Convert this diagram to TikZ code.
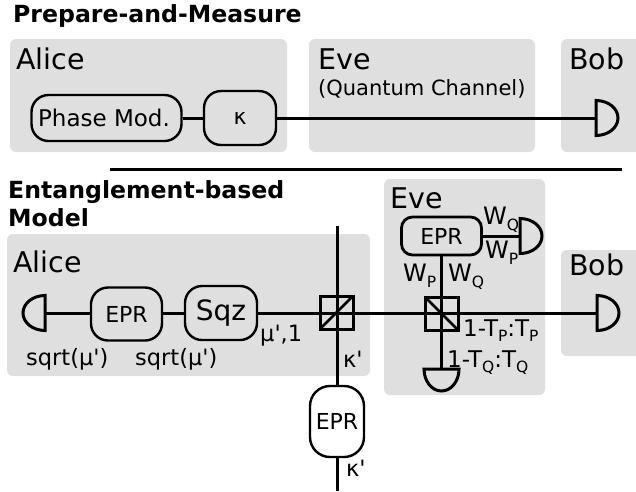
\documentclass[tikz,border=0pt]{standalone}
\usepackage{fontspec}
\setmainfont{DejaVu Sans}
\newfontfamily\plainface{DejaVu Sans}
\usetikzlibrary{calc}
\definecolor{panel}{HTML}{DFDFDF}
\newcommand{\fs}[1]{\fontsize{#1}{#1}\selectfont}
\newcommand{\sbs}[1]{\raisebox{-0.25em}{\fontsize{15.5}{15.5}\selectfont #1}}
\newcommand{\qq}{{\plainface\char"27\relax}}
\tikzset{
  panelbox/.style={fill=panel,draw=none,rounded corners=6pt},
  wire/.style={draw=black,line width=3pt},
  devbox/.style={draw=black,line width=2.4pt,fill=panel,rounded corners=17pt,inner sep=0pt,font=\fs{22}},
  whitebox/.style={devbox,fill=white,rounded corners=20pt},
  epreve/.style={devbox,line width=2.8pt,rounded corners=11pt},
  bsbox/.style={draw=black,line width=3pt,minimum width=33pt,minimum height=33pt,inner sep=0pt,fill=none,outer sep=0pt},
  det/.style={draw=black,line width=3pt},
  lab/.style={inner sep=0pt,anchor=base west,font=\fs{22.5}},
  big/.style={lab,font=\fs{28.5}},
  head/.style={lab,font=\fs{23.6}\bfseries},
}
\begin{document}
\begin{tikzpicture}[x=1pt,y=-1pt]
\useasboundingbox (0,0) rectangle (636,491);
% panels
\fill[panelbox] (10,39) rectangle (287,152);
\fill[panelbox] (309,39) rectangle (535,152);
\fill[panelbox] (561,39) rectangle (650,152);
\fill[panelbox] (7,234) rectangle (370,376);
\fill[panelbox] (384,179) rectangle (545,395);
\fill[panelbox] (561,250) rectangle (650,356);
\useasboundingbox (0,0) rectangle (636,491);
% headings and panel titles
\node[head] (h1) at (13,22) {Prepare-and-Measure};
\node[head] (h2) at (8,198) {Entanglement-based};
\node[head] (h3) at (8,226) {Model};
\node[big] (a1) at (16,69) {Alice};
\node[big] (e1) at (318,69) {Eve};
\node[lab,font=\fs{21}] (e1s) at (318,95) {(Quantum Channel)};
\node[big] (b1) at (569,69) {Bob};
\node[big] (a2) at (13,272.5) {Alice};
\node[big] (e2) at (390,208) {Eve};
\node[big] (b2) at (569,275) {Bob};
% rule
\coordinate (rs) at (110,169);
\coordinate (re) at (622,169);
\draw[draw=black,line width=3pt] (rs) -- (re);
% top row
\coordinate (dt) at (596,118);
\node[devbox,font=\fs{23},minimum width=150pt,minimum height=46pt] (pm) at (106.5,118) {\hspace*{-5pt}Phase Mod.};
\node[devbox,minimum width=72pt,minimum height=54pt] (kt) at (240,118) {κ};
\draw[wire] (pm) -- (kt);
\draw[wire] (kt) -- (dt);
% bottom row, Alice
\coordinate (dl) at (45,313);
\node[devbox,minimum width=71pt,minimum height=53pt] (ea) at (126.5,314) {EPR};
\node[devbox,minimum width=72pt,minimum height=54pt,font=\fs{28}] (sq) at (221,313) {Sqz};
\node[bsbox] (bsa) at (336.5,312.5) {};
\node[bsbox] (bse) at (441.5,313.5) {};
\coordinate (dr) at (597,313);
\coordinate (vt) at (337,226);
\coordinate (vb) at (337,491);
\draw[wire] (dl) -- (dl-|ea.west);
\draw[wire] (ea.east|-sq) -- (sq.west);
\draw[wire] (sq.east) -- (dr);
\draw[wire] (vt) -- (vb);
\node[whitebox,minimum width=54pt,minimum height=71pt] (ev) at (337,421.5) {EPR};
\draw[line width=2.5pt] (bsa.south west) -- (bsa.north east);
% Eve
\node[epreve,minimum width=80pt,minimum height=38pt] (ee) at (441.5,236) {EPR};
\coordinate (de) at (520,236);
\coordinate (db) at (441.5,369);
\draw[wire] (ee) -- (de);
\draw[wire] (ee) -- (db);
\draw[line width=2.5pt] (bse.north west) -- (bse.south east);
% detectors
\draw[det] (dt)++(0,-17.5) arc[start angle=-90,end angle=90,x radius=22pt,y radius=-17.5pt] -- cycle;
\draw[det] (dr)++(0,-17.5) arc[start angle=-90,end angle=90,x radius=22pt,y radius=-17.5pt] -- cycle;
\draw[det] (de)++(0,-17.5) arc[start angle=-90,end angle=90,x radius=22pt,y radius=-17.5pt] -- cycle;
\draw[det] (dl)++(0,-17.5) arc[start angle=-90,end angle=90,x radius=-22pt,y radius=-17.5pt] -- cycle;
\draw[det] (db)++(-17.5,0) arc[start angle=180,end angle=360,x radius=17.5pt,y radius=22pt] -- cycle;
% labels
\node[lab] (l1) at (26,365) {sqrt(μ\qq)};
\node[lab] (l2) at (135,365) {sqrt(μ\qq)};
\node[lab] (l3) at (260,341.5) {μ\qq,1};
\node[lab] (l4) at (343,367) {κ\qq};
\node[lab] (l5) at (346,476.5) {κ\qq};
\node[lab,font=\fs{24}] (l6) at (483,224) {W\sbs{Q}};
\node[lab,font=\fs{24}] (l7) at (485,258) {W\sbs{P}};
\node[lab,font=\fs{24}] (l8) at (403,281) {W\sbs{P}};
\node[lab,font=\fs{24}] (l9) at (448,281) {W\sbs{Q}};
\node[lab,font=\fs{23}] (l10) at (463,336) {1-T\sbs{P}:T\sbs{P}};
\node[lab,font=\fs{23}] (l11) at (447,367) {1-T\sbs{Q}:T\sbs{Q}};
\end{tikzpicture}
\end{document}
